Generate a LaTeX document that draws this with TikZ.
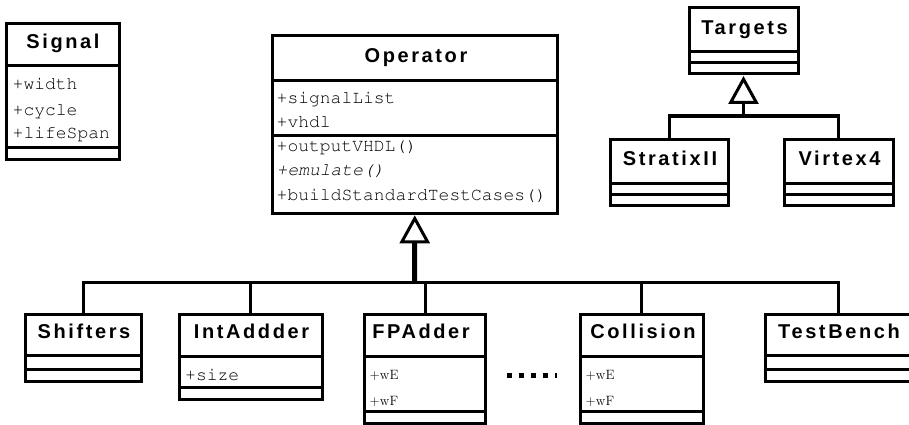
\documentclass[tikz,border=0pt]{standalone}
\usepackage{fontspec}
\usetikzlibrary{arrows.meta}
\newfontfamily\umltitlefont{Liberation Sans}[LetterSpace=13]
\newcommand\umlattrfont{\fontencoding{OT1}\fontfamily{pcr}\fontseries{m}\fontshape{n}\fontsize{18}{20}\selectfont}
\newcommand\umlsep[2]{\draw[sepline] ([yshift=-#2pt]#1.north west) -- ([yshift=-#2pt]#1.north east);}
\tikzset{
  umlbox/.style={draw, line width=3pt, rectangle, inner sep=0pt, outer sep=0pt, fill=white, anchor=north west},
  sepline/.style={line width=3pt},
  conn/.style={line width=3pt, line join=miter},
  stem/.style={line width=5pt},
  gentip/.style={-{Triangle[open, length=28pt, width=30pt, line width=3pt]}, shorten >=2pt},
  ttl/.style={font=\umltitlefont\bfseries\fontsize{20}{24}\selectfont, inner sep=0pt, anchor=base},
  attr/.style={font=\umlattrfont, inner sep=0pt, anchor=base west},
  sattr/.style={font=\fontsize{13.5}{16}\selectfont, inner sep=0pt, anchor=base west},
  dotline/.style={line width=4.5pt, dash pattern=on 4.5pt off 7.5pt}
}
\begin{document}
\begin{tikzpicture}[x=1pt,y=-1pt]
\useasboundingbox (0,0) rectangle (909,425);

% ---- Signal
\node[umlbox, minimum width=112.5, minimum height=136] (signal) at (6.5,23.8) {};
\umlsep{signal}{42}
\umlsep{signal}{123.4}
\node[ttl] (signalT) at (63,49) {Signal};
\node[attr] (signalA1) at (12.5,90) {+width};
\node[attr] (signalA2) at (12.5,115) {+cycle};
\node[attr] (signalA3) at (12.5,139) {+lifeSpan};

% ---- Operator
\node[umlbox, minimum width=284.5, minimum height=177.5] (operator) at (272.5,35.8) {};
\umlsep{operator}{45}
\umlsep{operator}{100}
\node[ttl] (operatorT) at (416,62.5) {Operator};
\node[attr] (opA1) at (276.5,103) {+signalList};
\node[attr] (opA2) at (276.5,127) {+vhdl};
\node[attr] (opM1) at (276.5,151) {+outputVHDL()};
\node[attr] (opM2) at (276.5,175) {\itshape +emulate()};
\node[attr] (opM3) at (276.5,200) {+buildStandardTestCases()};

% ---- Targets
\node[umlbox, minimum width=109, minimum height=66] (targets) at (689,8) {};
\umlsep{targets}{44}
\umlsep{targets}{54.5}
\node[ttl] (targetsT) at (744.5,34.3) {Targets};

\node[umlbox, minimum width=118, minimum height=66.5] (stratix) at (610,139) {};
\umlsep{stratix}{44}
\umlsep{stratix}{55}
\node[ttl] (stratixT) at (670,165) {StratixII};

\node[umlbox, minimum width=109, minimum height=66.5] (virtex) at (784,139) {};
\umlsep{virtex}{44}
\umlsep{virtex}{55}
\node[ttl] (virtexT) at (839.5,165) {Virtex4};

% ---- bottom row
\node[umlbox, minimum width=115.5, minimum height=67] (shifters) at (25.5,314.4) {};
\umlsep{shifters}{41.4}
\umlsep{shifters}{54.6}
\node[ttl] (shiftersT) at (84,338.3) {Shifters};

\node[umlbox, minimum width=142.3, minimum height=85.3] (intadder) at (179.7,314.4) {};
\umlsep{intadder}{41.6}
\umlsep{intadder}{73.4}
\node[ttl] (intadderT) at (251.5,338.3) {IntAddder};
\node[attr] (intadderA) at (185,380) {+size};

\node[umlbox, minimum width=121, minimum height=108.6] (fpadder) at (364.7,314.4) {};
\umlsep{fpadder}{41.6}
\umlsep{fpadder}{97.3}
\node[ttl] (fpadderT) at (421,338.3) {FPAdder};
\node[sattr] (fpA1) at (369.5,379.5) {+wE};
\node[sattr] (fpA2) at (369.5,405) {+wF};

\node[umlbox, minimum width=122.3, minimum height=108.6] (collision) at (580.7,314.4) {};
\umlsep{collision}{41.6}
\umlsep{collision}{97.3}
\node[ttl] (collisionT) at (643,338.3) {Collision};
\node[sattr] (colA1) at (585.5,379.5) {+wE};
\node[sattr] (colA2) at (585.5,405) {+wF};

\node[umlbox, minimum width=145.3, minimum height=67] (testbench) at (765.7,314.4) {};
\umlsep{testbench}{41.4}
\umlsep{testbench}{54.6}
\node[ttl] (testbenchT) at (839,338.3) {TestBench};

% ---- ellipsis
\coordinate (dotsA) at (507,375.3);
\coordinate (dotsB) at (556.5,375.3);
\draw[dotline] (dotsA) -- (dotsB);

% ---- generalisation to Operator
\coordinate (hub) at (414.7,282);
\draw[stem, gentip, -{Triangle[open, length=28pt, width=30pt, line width=3pt]}] (hub) -- (operator.south);
\draw[conn] (shifters.north) |- (hub);
\draw[conn] (intadder.north) |- (hub);
\draw[conn] (fpadder.north) |- (hub);
\draw[conn] (collision.north) |- (hub);
\draw[conn] (testbench.north) |- (hub);

% ---- generalisation to Targets
\coordinate (thub) at (743.5,116);
\draw[conn, gentip] (thub) -- (targets.south);
\draw[conn] (stratix.north) |- (thub);
\draw[conn] (virtex.north) |- (thub);
\end{tikzpicture}
\end{document}
